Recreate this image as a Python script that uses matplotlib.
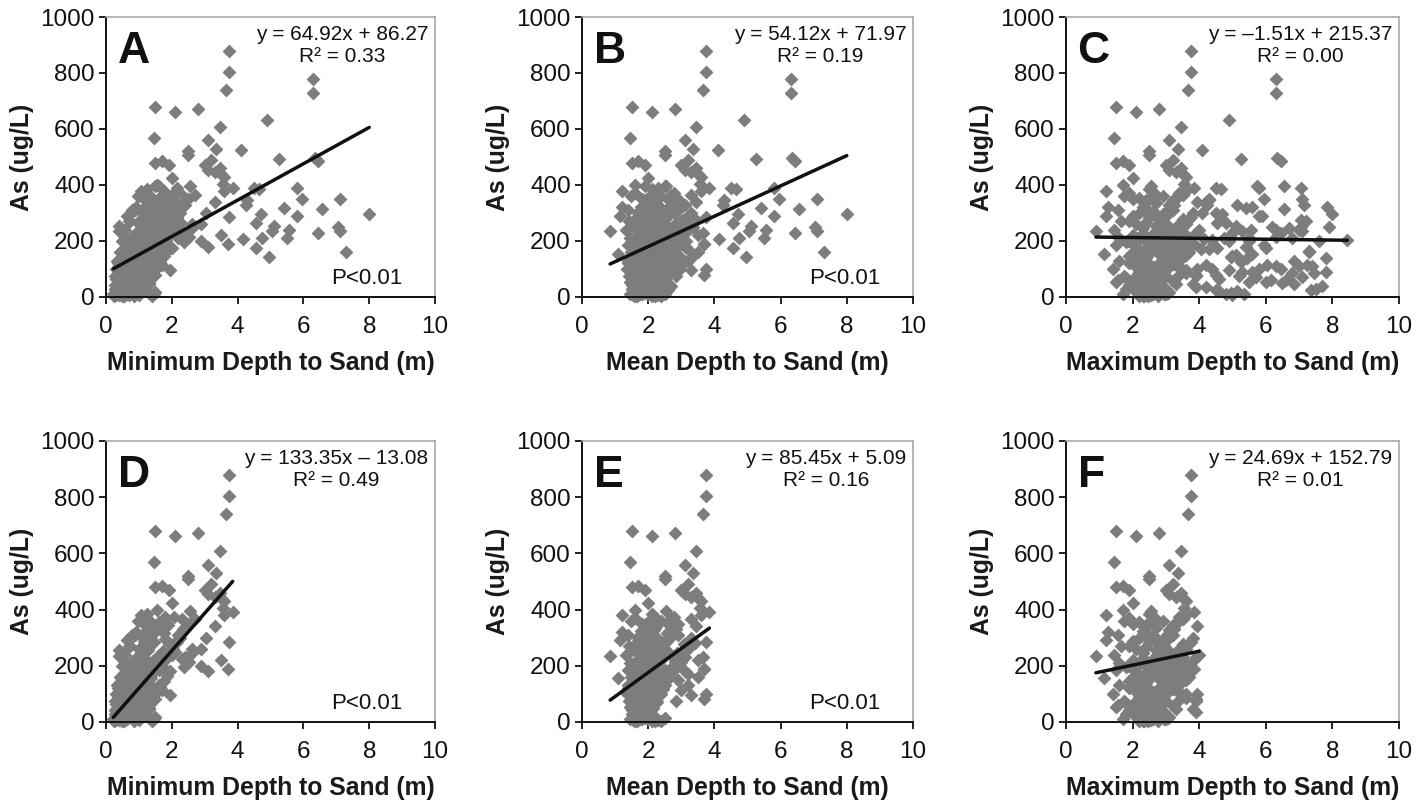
import numpy as np
import matplotlib
matplotlib.use("Agg")
import matplotlib.pyplot as plt

plt.rcParams["font.family"] = ["Liberation Sans", "DejaVu Sans"]

single_depth = [3.75, 3.75, 3.65, 6.3, 6.3, 1.5, 2.1, 2.8, 4.9, 3.45, 1.45, 3.1,
                3.35, 4.1, 2.5, 2.5, 5.25, 6.35, 6.45, 1.5, 1.7, 1.9, 2.0, 3.0,
                3.1, 3.2, 3.3, 3.45, 3.5, 3.6, 3.55, 3.6, 3.85, 2.55, 2.7, 5.8,
                5.95, 7.1, 4.5, 4.3, 4.25, 6.55, 5.4, 8.0, 5.8, 4.7, 3.75, 4.55,
                5.55, 5.05, 7.05, 7.1, 6.45, 4.75, 4.15, 3.5, 3.7, 4.55, 7.3,
                3.1, 2.9, 4.95, 5.5, 4.65, 5.1]
single_as = [880, 805, 740, 780, 730, 678, 660, 672, 632, 608, 568, 560,
             530, 525, 520, 508, 492, 495, 485, 480, 485, 470, 425, 470,
             455, 490, 445, 460, 440, 430, 405, 380, 390, 395, 365, 390,
             350, 350, 390, 345, 330, 315, 318, 295, 290, 295, 285, 265,
             238, 235, 250, 235, 228, 210, 208, 222, 188, 175, 160,
             180, 200, 142, 210, 385, 255]

# wells with several logs: arsenic, min / mean / max depth to sand
multi_as = [5, 8, 10, 3, 12, 15, 6, 20, 10, 18, 25, 30, 35, 40, 45, 50, 55, 58,
            20, 10, 8, 10, 25, 30, 40, 50, 55, 45, 35, 60,
            65, 70, 75, 80, 80, 85, 90, 90, 95, 100, 100, 100, 100, 105, 110,
            110, 110, 110, 115, 120, 120, 125, 130, 135, 140, 145, 150, 70, 70,
            60, 75, 90, 85, 95, 130, 115, 125, 140, 60, 75,
            155, 160, 165, 165, 170, 175, 180, 180, 185, 190, 195, 200, 200,
            200, 205, 210, 215, 220, 220, 225, 230, 235, 235, 240, 240, 240,
            245, 250, 250, 190, 160, 170, 150, 210, 185, 230,
            255, 260, 270, 275, 280, 285, 290, 290, 295, 300, 300, 305, 310,
            315, 320, 320, 320, 330, 330, 335, 340, 345, 350, 355, 360, 365,
            370, 375, 380, 385, 390, 395, 395, 400, 260, 270, 280, 300, 340,
            260, 310, 350,
            42, 62, 88, 118, 152, 178, 212, 238, 268, 82, 108, 142, 168, 198,
            232, 262, 288, 322, 348, 22, 32, 48, 72, 98, 132, 158, 192, 218,
            252, 278, 15, 45, 75, 105, 135, 165, 195, 225, 255, 285, 315, 345,
            372, 25, 55, 85, 115, 145, 175, 205, 235, 265, 195, 215, 245, 205,
            12, 28, 48, 68, 88, 108, 128, 148, 172, 188, 208, 228, 248, 268,
            288, 308, 328, 18, 38, 58, 78, 98, 118, 138, 158, 178, 2, 4, 6, 3,
            9, 14, 35, 65, 95, 125, 155, 185, 215, 245, 275, 115, 85, 45, 15,
            22, 140, 230, 300, 350, 170, 60, 100, 200, 250, 20, 35, 50, 65, 80,
            105, 125, 145, 165, 180, 260, 285, 300, 330, 360, 310, 270, 240,
            200, 160, 130, 75]
multi_min = [0.25, 0.3, 0.45, 0.5, 0.6, 0.35, 0.4, 0.7, 1.45, 1.5, 0.55, 0.3,
             0.8, 0.65, 0.9, 1.0, 0.5, 1.1,
             0.6, 0.4, 0.7, 0.5, 0.9, 0.8, 1.2, 0.55, 1.0, 1.3, 1.2, 0.75,
             0.3, 0.45, 0.6, 0.5, 0.9, 0.7, 1.2, 0.8, 1.95, 0.3, 1.0, 0.65, 1.1,
             0.85, 0.4, 1.3, 1.0, 0.75, 0.95, 0.35, 1.2, 0.55, 1.4, 0.9, 1.5,
             0.6, 1.3, 0.7, 1.05, 0.85, 1.15, 1.25, 0.95, 1.35, 1.6, 1.7, 1.4,
             1.0, 0.5, 1.2,
             0.55, 0.8, 1.0, 1.5, 0.9, 1.2, 1.3, 0.7, 1.6, 1.1, 0.75, 1.45, 1.7,
             1.2, 0.95, 2.2, 1.4, 1.8, 0.85, 2.3, 1.55, 0.4, 1.6, 2.0, 1.3, 1.9,
             1.05, 1.5, 2.1, 1.8, 1.25, 1.4, 1.15, 0.6, 0.65, 2.4,
             0.4, 1.0, 0.7, 1.35, 1.6, 1.2, 0.65, 1.45, 1.8, 0.75, 1.9, 1.1, 2.2,
             1.4, 0.9, 1.7, 2.0, 1.3, 2.4, 1.5, 2.1, 1.2, 2.5, 1.6, 1.35, 2.3,
             1.1, 1.8, 1.05, 1.25, 2.15, 1.5, 1.6, 1.55, 2.6, 1.0, 1.9, 3.05, 3.3,
             2.9, 0.8, 1.3,
             0.27, 0.38, 0.47, 0.52, 0.63, 0.82, 0.93, 1.02, 1.17, 0.57, 0.68,
             0.77, 0.88, 0.97, 1.12, 1.27, 1.33, 1.52, 1.67, 0.32, 0.48, 0.72,
             0.78, 0.92, 1.03, 1.13, 1.32, 1.43, 1.72, 2.03, 0.42, 0.62, 0.43,
             0.58, 0.73, 0.78, 1.07, 1.18, 1.28, 1.47, 1.77, 1.88, 2.07, 1.22,
             1.02, 1.33, 1.62, 1.68, 2.02, 1.83, 2.22, 2.28, 2.38, 2.52, 2.62, 1.1,
             0.22, 0.28, 0.33, 0.37, 0.42, 0.52, 0.58, 0.66, 0.74, 0.83, 0.87,
             0.94, 1.06, 1.09, 1.14, 1.19, 1.24, 0.62, 0.78, 0.86, 0.96, 1.04,
             1.16, 1.26, 1.36, 1.44, 0.55, 0.85, 1.0, 1.4, 0.65, 1.3, 0.6, 0.75,
             0.9, 1.05, 1.2, 1.35, 1.5, 1.65, 1.8, 0.7, 0.85, 1.0, 0.5, 0.7, 0.95,
             1.25, 1.55, 1.7, 1.1, 1.25, 1.45, 1.6, 1.75, 1.1, 1.2, 1.3, 1.35,
             1.5, 1.55, 1.65, 1.75, 1.85, 1.95, 2.05, 2.15, 2.25, 2.35, 0.98,
             0.88, 0.72, 0.58, 0.48, 0.44, 0.34, 0.26]
multi_mean = [1.6, 1.7, 1.75, 1.65, 1.8, 1.9, 1.55, 2.0, 2.1, 2.2, 1.6, 1.5,
              1.9, 1.7, 2.0, 1.8, 1.45, 1.9,
              2.2, 2.3, 2.4, 2.5, 2.6, 2.5, 2.7, 2.2, 2.4, 2.1, 2.0, 1.8,
              1.5, 1.6, 2.85, 3.7, 2.5, 1.7, 2.0, 1.9, 2.3, 1.35, 3.75, 2.1, 2.6,
              1.8, 1.6, 2.4, 2.8, 2.2, 2.9, 1.4, 2.0, 1.75, 3.1, 2.2, 3.3,
              1.55, 2.6, 2.0, 2.3, 2.1, 2.5, 2.7, 2.0, 3.3, 3.2, 3.0, 2.2,
              1.85, 1.5, 2.1,
              1.1, 1.5, 1.7, 2.4, 2.0, 1.9, 2.3, 1.6, 2.5, 2.2, 1.55, 2.6, 2.1,
              2.8, 1.8, 3.0, 2.0, 2.4, 1.65, 2.9, 3.65, 0.85, 2.2, 2.7, 2.5, 2.9,
              1.7, 2.3, 2.6, 3.7, 3.5, 3.2, 2.9, 1.45, 1.4, 3.1,
              1.5, 1.8, 1.6, 2.2, 2.5, 1.9, 1.15, 2.6, 2.3, 1.7, 2.8, 2.0, 2.9,
              2.1, 1.2, 2.7, 3.0, 2.3, 3.1, 2.2, 2.7, 1.9, 2.9, 2.0, 2.4, 3.3,
              1.6, 2.2, 1.2, 2.1, 2.3, 2.5, 1.9, 1.6, 3.2, 3.0, 3.4, 3.3, 3.45,
              3.1, 1.75, 1.8,
              1.52, 1.57, 1.63, 1.72, 1.83, 1.88, 2.02, 2.12, 2.18, 1.92, 2.03,
              2.08, 2.22, 2.28, 2.42, 2.48, 1.68, 1.78, 1.93, 1.88, 2.02, 2.13,
              2.27, 2.38, 2.52, 2.57, 2.68, 2.82, 3.03, 3.08, 1.62, 1.68, 1.77,
              1.83, 1.97, 2.07, 2.13, 2.27, 2.33, 2.43, 2.58, 2.63, 2.77, 1.72,
              2.18, 2.62, 2.78, 2.42, 2.88, 2.58, 3.18, 2.83, 2.72, 2.98, 2.88, 2.4,
              1.45, 1.55, 1.62, 1.5, 1.7, 1.58, 1.66, 1.74, 1.82, 1.64, 1.9,
              1.78, 2.0, 1.86, 2.06, 1.94, 2.16, 1.95, 2.04, 2.12, 2.24, 2.34,
              2.44, 2.32, 2.52, 2.42, 2.1, 2.2, 2.3, 2.4, 2.0, 2.5, 2.3, 2.5,
              2.6, 2.7, 2.8, 2.9, 3.0, 3.1, 3.2, 2.2, 2.4, 2.6, 2.35, 2.45, 2.15,
              2.55, 2.65, 2.75, 2.05, 2.45, 2.95, 3.15, 3.35, 1.85, 1.95, 2.05,
              2.15, 2.25, 2.35, 2.45, 2.55, 2.65, 2.75, 2.45, 2.55, 2.65, 2.85,
              1.48, 1.38, 1.42, 1.33, 1.52, 1.47, 1.39, 1.43]
multi_max = [2.2, 2.4, 2.6, 2.3, 2.8, 3.0, 2.5, 2.7, 3.0, 3.1, 2.1, 1.8, 2.4,
             2.9, 3.3, 2.6, 1.5, 2.2,
             4.6, 4.8, 5.0, 5.35, 7.35, 7.5, 7.7, 6.5, 6.0, 3.8, 3.9, 2.0,
             2.0, 2.3, 3.0, 3.9, 4.5, 2.5, 5.3, 5.6, 2.6, 1.4, 3.95, 4.4, 5.8,
             2.2, 2.4, 6.3, 7.0, 7.4, 6.05, 1.9, 2.8, 2.1, 6.85, 3.2, 7.8,
             1.9, 5.1, 5.7, 7.1, 6.6, 5.2, 7.8, 3.6, 3.5, 3.4, 3.3, 2.9,
             2.4, 1.55, 3.9,
             1.15, 2.0, 2.3, 7.3, 4.3, 2.5, 5.4, 2.1, 2.9, 3.5, 1.8, 4.9, 2.4,
             5.5, 2.2, 6.8, 2.6, 3.0, 2.0, 3.4, 3.9, 0.9, 2.7, 4.0, 6.3, 7.0,
             2.3, 6.2, 3.1, 3.85, 3.7, 3.45, 3.6, 1.6, 1.5, 3.3,
             2.3, 2.1, 1.9, 2.8, 4.7, 2.5, 1.2, 5.9, 2.9, 2.2, 4.1, 2.6, 3.2,
             2.4, 1.25, 5.6, 7.85, 5.15, 7.15, 2.7, 4.2, 2.4, 3.3, 2.2, 2.9, 3.5,
             1.9, 2.6, 1.2, 2.5, 7.05, 5.75, 6.55, 1.7, 3.6, 7.2, 3.7, 3.8, 3.95,
             3.4, 2.4, 2.0,
             1.9, 2.1, 2.2, 2.4, 2.5, 2.6, 2.7, 2.8, 2.9, 2.3, 2.6, 2.9, 3.1, 3.3,
             3.5, 3.0, 2.0, 2.3, 2.5, 2.8, 2.4, 2.5, 2.8, 3.0, 3.2, 3.4, 3.6, 3.8,
             3.4, 3.5, 2.7, 2.6, 2.2, 2.7, 2.3, 2.7, 3.0, 2.6, 2.7, 2.8, 3.1, 3.2,
             3.4, 4.5, 5.5, 6.8, 4.2, 5.0, 6.0, 4.4, 5.3, 4.8, 3.0, 3.2, 3.1, 8.45,
             1.7, 2.0, 2.3, 1.8, 2.5, 2.1, 2.4, 2.2, 2.6, 2.0, 2.7, 2.3, 2.9,
             2.4, 3.0, 2.6, 3.1, 2.5, 2.8, 3.2, 3.4, 3.6, 3.2, 2.9, 3.5, 3.0,
             2.35, 2.45, 2.55, 2.75, 2.95, 3.05, 4.2, 4.6, 4.9, 5.25, 5.6, 5.95,
             6.3, 6.7, 7.05, 7.25, 7.45, 6.85, 4.95, 5.15, 5.45, 5.0, 4.5, 4.3,
             4.05, 6.15, 6.45, 7.6, 7.9, 2.25, 2.35, 2.55, 2.65, 2.75, 2.85,
             2.95, 3.15, 3.25, 3.45, 2.75, 2.95, 3.05, 3.25, 1.75, 1.55, 1.65,
             1.45, 1.85, 2.05, 1.6, 1.75]

# fitted lines as printed on each panel
slopes = [64.92, 54.12, -1.51, 133.35, 85.45, 24.69]
intercepts = [86.27, 71.97, 215.37, -13.08, 5.09, 152.79]
r_squared = ["0.33", "0.19", "0.00", "0.49", "0.16", "0.01"]
equations = ["y = 64.92x + 86.27", "y = 54.12x + 71.97", "y = \u20131.51x + 215.37",
             "y = 133.35x \u2013 13.08", "y = 85.45x + 5.09", "y = 24.69x + 152.79"]
panel_letters = ["A", "B", "C", "D", "E", "F"]
show_p = [True, True, False, True, True, False]
depth_labels = ["Minimum Depth to Sand (m)", "Mean Depth to Sand (m)",
                "Maximum Depth to Sand (m)"]
shallow_limit = 4.0  # bottom row: wells with max depth to sand <= 4 m

arsenic = np.array(single_as + multi_as, dtype=float)
dmin = np.array(single_depth + multi_min)
dmean = np.array(single_depth + multi_mean)
dmax = np.array(single_depth + multi_max)
shallow = dmax <= shallow_limit

depths = [dmin, dmean, dmax]

fig = plt.figure(figsize=(14.23, 8.02), dpi=100)
lefts = [0.0745, 0.4090, 0.7491]
widths = [0.2312, 0.2326, 0.2340]
bottoms = [0.6297, 0.0998]
heights = [0.3491, 0.3504]

for i in range(6):
    row, col = divmod(i, 3)
    ax = fig.add_axes([lefts[col], bottoms[row], widths[col], heights[row]])
    x = depths[col]
    y = arsenic
    if row == 1:
        x = x[shallow]
        y = y[shallow]
    ax.scatter(x, y, marker="D", s=50, color="#7d7d7d", linewidths=0,
               clip_on=False, zorder=2)
    xs = np.array([x.min(), x.max()])
    ax.plot(xs, slopes[i] * xs + intercepts[i], color="#111111", lw=2.5,
            solid_capstyle="round", zorder=3)

    ax.set_xlim(0, 10)
    ax.set_ylim(0, 1000)
    ax.set_xticks(range(0, 11, 2))
    ax.set_yticks(range(0, 1001, 200))
    ax.tick_params(direction="out", length=5, width=1.3, labelsize=17.5,
                   colors="#111111", pad=3)
    ax.tick_params(axis="x", pad=9)
    for s in ("left", "bottom"):
        ax.spines[s].set_color("#111111")
        ax.spines[s].set_linewidth(1.4)
    for s in ("top", "right"):
        ax.spines[s].set_color("#a8a8a8")
        ax.spines[s].set_linewidth(1.2)

    ax.set_xlabel(depth_labels[col], fontsize=17.8, fontweight="bold",
                  labelpad=9, color="#1a1a1a")
    ax.set_ylabel("As (ug/L)", fontsize=17.8, fontweight="bold",
                  labelpad=5, color="#1a1a1a")

    ax.text(0.035, 0.95, panel_letters[i], transform=ax.transAxes,
            fontsize=32, fontweight="bold", ha="left", va="top", color="#111111")
    ax.text(0.98, 0.97, equations[i] + "\nR\u00b2 = " + r_squared[i],
            transform=ax.transAxes, fontsize=15, ha="right", va="top",
            multialignment="center", linespacing=1.2, color="#111111")
    if show_p[i]:
        ax.text(0.9, 0.03, "P<0.01", transform=ax.transAxes, fontsize=16,
                ha="right", va="bottom", color="#111111")

fig.savefig("out.png", dpi=100)
